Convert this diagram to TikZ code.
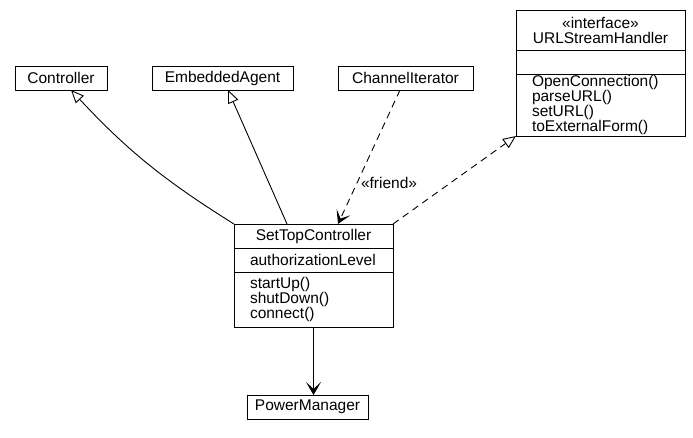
\documentclass[tikz,border=0pt]{standalone}
\usepackage{fontspec}
\setmainfont{Liberation Sans}
\usetikzlibrary{arrows.meta,positioning}

\begin{document}
\begin{tikzpicture}[x=1pt, y=1pt, line width=0.9pt,
  font=\fontsize{15.5}{15}\selectfont,
  cls/.style={draw, minimum height=24pt, inner sep=0pt, outer sep=0pt},
  comp/.style={draw, inner xsep=16pt, inner ysep=0pt, outer sep=0pt, align=left},
  inherit/.style={-{Triangle[open, length=13pt, width=11pt]}},
  uses/.style={-{Stealth[length=13pt, width=15pt, inset=7pt]}},
  depline/.style={dash pattern=on 7pt off 5pt}
]
\useasboundingbox (0,0) rectangle (693,-437);

\node[cls, minimum width=92pt] (ctrl) at (61,-78) {Controller};
\node[cls, minimum width=141pt] (agent) at (222.5,-78) {EmbeddedAgent};
\node[cls, minimum width=135pt] (chan) at (405.5,-78) {ChannelIterator};

% interface
\node[cls, minimum width=169pt, minimum height=40pt, align=center] (url) at (600.5,-30) {«interface»\\URLStreamHandler};
\node[cls, minimum width=169pt, below=0pt of url] (urlattr) {};
\node[comp, text width=137pt, minimum height=62pt, below=0pt of urlattr] (urlops) {OpenConnection()\\parseURL()\\setURL()\\toExternalForm()};

% main class
\node[cls, minimum width=159pt] (stc) at (313.5,-236) {SetTopController};
\node[comp, text width=127pt, minimum height=24pt, below=0pt of stc] (stcattr) {authorizationLevel};
\node[comp, text width=127pt, minimum height=55pt, below=0pt of stcattr] (stcops) {startUp()\\shutDown()\\connect()};

\node[cls, minimum width=121pt] (pm) at (307.5,-407) {PowerManager};

\draw[inherit] (stc.north west) to[out=148, in=-47] ([xshift=10pt]ctrl.south);
\draw[inherit] ([xshift=-26.5pt]stc.north) -- ([xshift=5.5pt]agent.south);
\draw[uses, depline] ([xshift=-5.5pt]chan.south) -- node[right, pos=0.69] {«friend»} ([xshift=24.5pt]stc.north);
\draw[inherit, depline] (stc.north east) -- (urlops.south west);
\draw[uses] (stcops.south) -- (stcops.south |- pm.north);
\end{tikzpicture}
\end{document}
